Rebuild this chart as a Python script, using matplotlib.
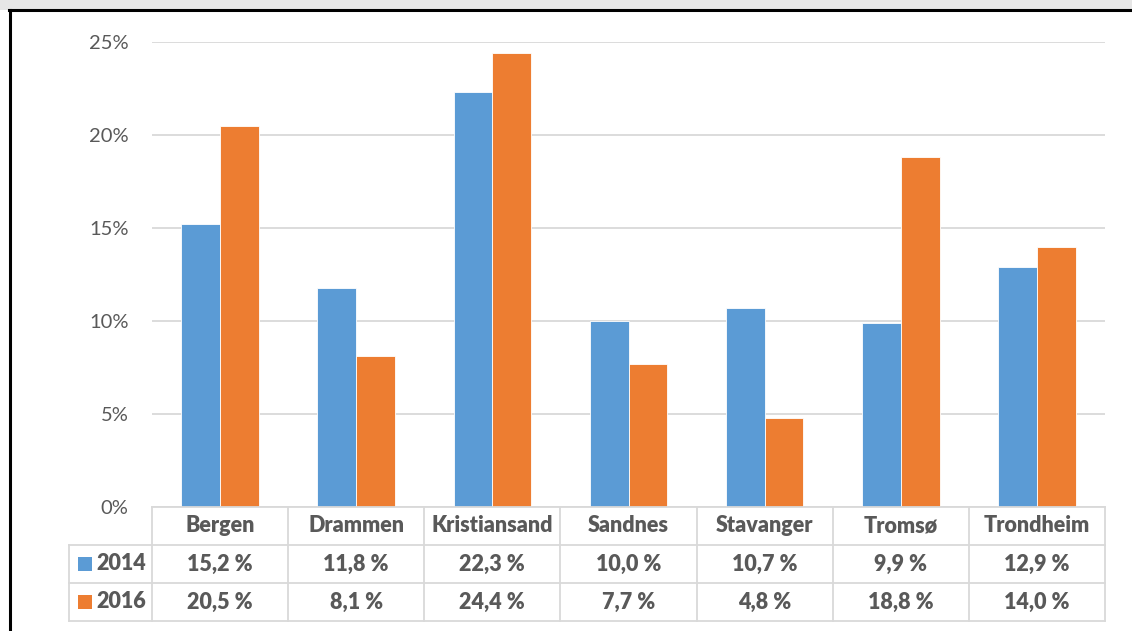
import matplotlib
matplotlib.use("Agg")
import matplotlib.pyplot as plt
import numpy as np
from matplotlib.lines import Line2D
from matplotlib.patches import Rectangle

plt.rcParams['font.family'] = ['Lato', 'DejaVu Sans']

cities = ["Bergen", "Drammen", "Kristiansand", "Sandnes", "Stavanger", "Tromsø", "Trondheim"]
years = ["2014", "2016"]
v2014 = [15.2, 11.8, 22.3, 10.0, 10.7, 9.9, 12.9]
v2016 = [20.5, 8.1, 24.4, 7.7, 4.8, 18.8, 14.0]
yticks = [0, 5, 10, 15, 20, 25]
colors = ["#5B9BD5", "#ED7D31"]
text_color = "#595959"
grid_color = "#D9D9D9"

W, H = 1132, 631
fig = plt.figure(figsize=(W / 100, H / 100), dpi=100)

def fx(px):
    return px / W

def fy(py):
    return 1 - py / H

x_left, x_right = 152, 1105
y_top, y_bot = 42, 507
ax = fig.add_axes([fx(x_left), fy(y_bot), fx(x_right) - fx(x_left), fy(y_top) - fy(y_bot)])

n = len(cities)
x = np.arange(n)
bw = 0.285
ax.bar(x - bw / 2, v2014, bw, color=colors[0], edgecolor="white", linewidth=0.6, zorder=3)
ax.bar(x + bw / 2, v2016, bw, color=colors[1], edgecolor="white", linewidth=0.6, zorder=3)
ax.set_xlim(-0.5, n - 0.5)
ax.set_ylim(0, 25)
ax.set_yticks(yticks)
ax.set_yticklabels([f"{t}%" for t in yticks], color=text_color, fontsize=14.5)
ax.set_xticks([])
ax.tick_params(axis="y", length=0, pad=17)
ax.grid(axis="y", color=grid_color, linewidth=1.3, zorder=0)
for s in ax.spines.values():
    s.set_visible(False)
ax.set_facecolor("none")

# Header band and frame
fig.patches.append(Rectangle((0, fy(10)), 1, 1 - fy(10), transform=fig.transFigure,
                             facecolor="#E6E6E6", edgecolor="none", zorder=0))
fig.lines.append(Line2D([fx(9), 1], [fy(10), fy(10)], transform=fig.transFigure, color="black", linewidth=2.2))
fig.lines.append(Line2D([fx(10), fx(10)], [0, fy(10)], transform=fig.transFigure, color="black", linewidth=2.2))

# Data table
col_w = (x_right - x_left) / n
rows_y = [507, 545, 583, 621]
leg_left = 69
lw = 1.3
fig.lines.append(Line2D([fx(x_left), fx(x_right)], [fy(rows_y[0])] * 2, transform=fig.transFigure, color=grid_color, linewidth=lw))
for ry in rows_y[1:]:
    fig.lines.append(Line2D([fx(leg_left), fx(x_right)], [fy(ry)] * 2, transform=fig.transFigure, color=grid_color, linewidth=lw))
for i in range(n + 1):
    xx = x_left + i * col_w
    fig.lines.append(Line2D([fx(xx)] * 2, [fy(rows_y[0]), fy(rows_y[3])], transform=fig.transFigure, color=grid_color, linewidth=lw))
fig.lines.append(Line2D([fx(leg_left)] * 2, [fy(rows_y[1]), fy(rows_y[3])], transform=fig.transFigure, color=grid_color, linewidth=lw))

def fmt(v):
    return f"{v:.1f}".replace(".", ",") + " %"

fs = 15.5
fw = "heavy"
for i, c in enumerate(cities):
    cx = x_left + (i + 0.5) * col_w
    fig.text(fx(cx), fy((rows_y[0] + rows_y[1]) / 2), c, ha="center", va="center",
             fontsize=fs, fontweight=fw, color=text_color)
    for r, vals in enumerate([v2014, v2016]):
        fig.text(fx(cx), fy((rows_y[r + 1] + rows_y[r + 2]) / 2), fmt(vals[i]), ha="center", va="center",
                 fontsize=fs, fontweight=fw, color=text_color)

for r, yr in enumerate(years):
    cy = (rows_y[r + 1] + rows_y[r + 2]) / 2
    fig.patches.append(Rectangle((fx(78), fy(cy + 7)), fx(14), fy(cy - 7) - fy(cy + 7),
                                 transform=fig.transFigure, facecolor=colors[r], edgecolor="none"))
    fig.text(fx(96), fy(cy), yr, ha="left", va="center", fontsize=fs, fontweight=fw, color=text_color)

fig.savefig("out.png", dpi=100)
